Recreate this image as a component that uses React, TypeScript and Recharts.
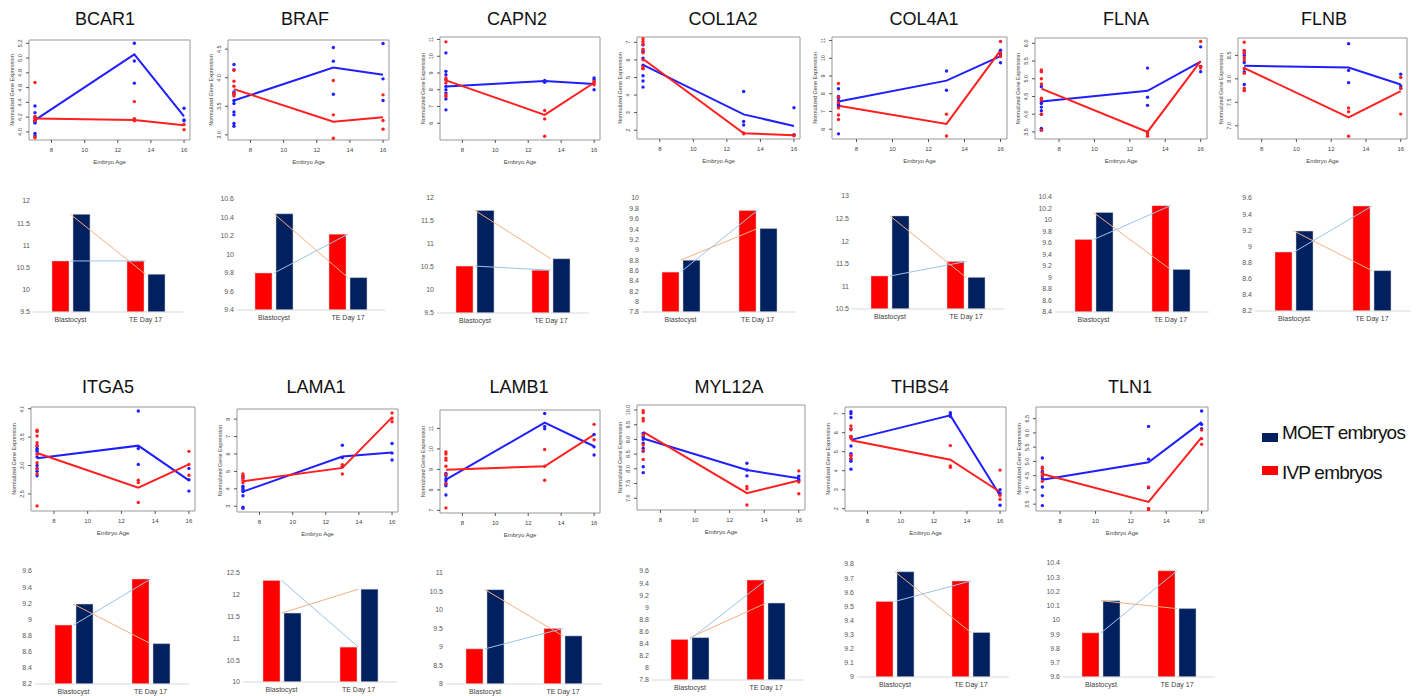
import React from 'react';
import { ComposedChart, Bar, Line, Scatter, XAxis, YAxis, ReferenceArea } from 'recharts';

const genes = ['BCAR1', 'BRAF', 'CAPN2', 'COL1A2', 'COL4A1', 'FLNA', 'FLNB', 'ITGA5', 'LAMA1', 'LAMB1', 'MYL12A', 'THBS4', 'TLN1'];
const ages = [7, 13, 16];
const ageTicks = [8, 10, 12, 14, 16];
const stages = ['Blastocyst', 'TE Day 17'];

// single embryos, grouped by embryo age (7, 13, 16)
const moetPoints = [
  [[4.35, 4.26, 4.2, 4.15, 4.13, 4.12, 3.98, 3.95], [5.2, 4.96, 4.66], [4.32, 4.16, 4.15]],
  [[4.23, 4.14, 3.75, 3.72, 3.6, 3.55, 3.4, 3.35, 3.2, 3.15], [4.53, 4.29, 3.71], [4.6, 3.98, 3.6]],
  [[10.2, 9.1, 8.9, 8.6, 8.2, 8.0, 7.8, 7.45, 6.8], [8.56, 8.5, 8.45], [8.7, 8.6, 8.0]],
  [[6.85, 6.5, 6.45, 6.1, 5.7, 5.5, 5.1, 4.8, 4.45], [4.2, 2.5, 2.3], [3.28, 1.75]],
  [[8.28, 7.85, 7.75, 7.6, 7.5, 7.4, 7.3, 5.74], [9.28, 8.2], [10.45, 10.2, 9.75]],
  [[5.2, 4.78, 4.35, 4.3, 4.2, 4.1, 4.0, 3.6, 3.55], [5.3, 4.48, 4.25], [5.9, 5.35, 5.2]],
  [[8.6, 8.55, 8.5, 8.35, 8.15, 7.88, 7.75], [8.75, 8.18, 7.92], [8.1, 7.85, 7.8]],
  [[3.35, 3.3, 3.28, 3.25, 3.15, 3.0, 2.95, 2.9, 2.82], [3.96, 3.3, 3.02], [2.95, 2.75, 2.55]],
  [[4.7, 4.6, 4.15, 4.05, 3.95, 3.85, 3.6, 2.95, 2.88], [6.5, 5.8, 5.3], [6.6, 6.05, 5.65]],
  [[8.8, 8.7, 8.55, 8.45, 8.3, 8.2, 7.75], [11.73, 11.1, 10.98], [10.7, 10.1, 9.7]],
  [[9.2, 9.1, 9.05, 9.0, 8.87, 8.7, 8.6, 8.07, 7.87], [8.19, 7.96, 7.76], [7.75, 7.65, 7.6]],
  [[7.1, 7.0, 6.8, 6.2, 5.8, 5.3, 4.9, 4.8, 4.6, 4.5, 4.08], [7.05, 6.95, 6.85], [3.0, 2.8, 2.18]],
  [[5.12, 4.65, 4.6, 4.5, 4.4, 4.1, 3.8, 3.45], [6.23, 5.08, 4.08], [6.77, 6.3, 6.15]],
];
const ivpPoints = [
  [[4.67, 4.21, 4.18, 4.16, 4.15, 3.93, 3.92], [4.41, 4.18, 4.16, 4.15], [4.1, 4.03]],
  [[4.13, 3.94, 3.85, 3.73, 3.7, 3.68], [3.95, 3.35, 2.94], [3.7, 3.25, 3.1]],
  [[10.86, 8.7, 8.6, 8.4, 7.7, 7.6], [6.76, 6.26, 5.22], [8.5, 8.4, 8.3]],
  [[7.2, 7.05, 6.9, 6.6, 6.4, 6.0, 5.6, 5.5], [1.85, 1.8], [1.72, 1.68]],
  [[8.58, 7.8, 7.5, 7.2, 6.8, 6.55], [6.85, 5.62], [10.95, 10.3, 10.1]],
  [[5.25, 5.2, 5.0, 4.85, 4.45, 4.4, 4.0, 3.55], [3.5, 3.45, 3.38], [6.05, 5.35, 5.3]],
  [[8.78, 8.6, 8.55, 8.45, 8.4, 8.22, 8.12, 7.8, 7.75], [7.38, 7.3, 6.78], [8.03, 7.8, 7.25]],
  [[3.62, 3.6, 3.52, 3.4, 3.35, 3.2, 3.05, 2.95, 2.85, 2.29], [2.74, 2.7, 2.35], [3.25, 3.02, 2.83]],
  [[4.85, 4.75, 4.6, 4.45, 4.35], [5.38, 5.3, 4.85], [8.35, 8.05, 7.85]],
  [[9.85, 9.75, 9.55, 9.45, 9.15, 8.75, 8.3, 7.12], [9.97, 9.15, 8.47], [11.2, 10.45]],
  [[9.98, 9.91, 9.71, 9.63, 9.15, 8.81, 8.62, 8.32], [7.4, 7.32, 6.77], [7.93, 7.55, 7.15]],
  [[6.35, 6.15, 5.8, 5.7, 4.8, 4.65], [5.32, 4.25, 4.18], [4.03, 2.7, 2.5]],
  [[4.8, 4.75, 4.6, 4.5, 4.3], [4.1, 3.35, 3.3], [6.1, 5.8, 5.6]],
];

// group means at 7, 13, 16
const moetMeans = [
  [4.16, 5.05, 4.21], [3.6, 4.18, 4.05], [8.2, 8.52, 8.35], [5.72, 2.9, 2.24], [7.56, 8.74, 10.12],
  [4.36, 4.66, 5.48], [8.28, 8.24, 7.88], [3.13, 3.35, 2.74], [3.84, 5.85, 6.08], [8.5, 11.28, 10.13],
  [9.03, 7.96, 7.68], [5.62, 6.91, 2.7], [4.36, 4.97, 6.38],
];
const ivpMeans = [
  [4.18, 4.16, 4.09], [3.8, 3.23, 3.31], [8.56, 6.5, 8.42], [6.05, 1.83, 1.72], [7.32, 6.3, 10.45],
  [4.72, 3.5, 5.5], [8.23, 7.18, 7.74], [3.22, 2.61, 3.02], [4.43, 5.2, 8.1], [8.98, 9.15, 10.7],
  [9.26, 7.17, 7.6], [5.6, 4.58, 2.88], [4.56, 3.58, 5.84],
];

const lineYTicks = [
  [4, 4.2, 4.4, 4.6, 4.8, 5, 5.2], [3, 3.5, 4, 4.5], [6, 7, 8, 9, 10, 11], [2, 3, 4, 5, 6, 7],
  [6, 7, 8, 9, 10, 11], [3.5, 4, 4.5, 5, 5.5, 6], [7, 7.5, 8, 8.5], [2.5, 3, 3.5, 4],
  [3, 4, 5, 6, 7, 8], [7, 8, 9, 10, 11], [7, 7.5, 8, 8.5, 9, 9.5, 10], [2, 3, 4, 5, 6, 7],
  [3.5, 4, 4.5, 5, 5.5, 6, 6.5],
];
const lineYDomain = [
  [3.89, 5.245], [2.91, 4.66], [5.0, 11.15], [1.5, 7.3], [5.45, 11.2], [3.3, 6.15], [6.72, 8.87],
  [2.2, 4.03], [2.67, 8.58], [6.87, 11.9], [6.6, 10.17], [1.88, 7.35], [3.26, 6.91],
];
const xDomain = [6.64, 16.36];

// Blastocyst, TE Day 17
const ivpBars = [
  [10.65, 10.65], [9.8, 10.22], [10.52, 10.43], [8.57, 9.76], [11.23, 11.55], [9.66, 10.25], [8.93, 9.5],
  [8.93, 9.5], [12.33, 10.8], [8.95, 9.5], [8.47, 9.45], [9.535, 9.68], [9.91, 10.345],
];
const moetBars = [
  [11.7, 10.35], [10.44, 9.75], [11.73, 10.68], [8.8, 9.41], [12.56, 11.2], [10.13, 9.14], [9.19, 8.7],
  [9.19, 8.7], [11.58, 12.13], [10.55, 9.3], [8.5, 9.07], [9.745, 9.315], [10.135, 10.08],
];
const barYTicks = [
  [9.5, 10, 10.5, 11, 11.5, 12],
  [9.4, 9.6, 9.8, 10, 10.2, 10.4, 10.6],
  [9.5, 10, 10.5, 11, 11.5, 12],
  [7.8, 8, 8.2, 8.4, 8.6, 8.8, 9, 9.2, 9.4, 9.6, 9.8, 10],
  [10.5, 11, 11.5, 12, 12.5, 13],
  [8.4, 8.6, 8.8, 9, 9.2, 9.4, 9.6, 9.8, 10, 10.2, 10.4],
  [8.2, 8.4, 8.6, 8.8, 9, 9.2, 9.4, 9.6],
  [8.2, 8.4, 8.6, 8.8, 9, 9.2, 9.4, 9.6],
  [10, 10.5, 11, 11.5, 12, 12.5],
  [8, 8.5, 9, 9.5, 10, 10.5, 11],
  [7.8, 8, 8.2, 8.4, 8.6, 8.8, 9, 9.2, 9.4, 9.6],
  [9, 9.1, 9.2, 9.3, 9.4, 9.5, 9.6, 9.7, 9.8],
  [9.6, 9.7, 9.8, 9.9, 10, 10.1, 10.2, 10.3, 10.4],
];

// layout: plot boxes [left, top, right, bottom], title centres, bar positions [blast centre, TE centre, top tick y, base y]
const lineBox = [
  [29, 40, 190, 140], [228, 40, 389, 140], [440, 37, 600, 140], [637, 37, 800, 139], [832, 37, 1007, 139],
  [1035, 38, 1207, 139], [1238, 38, 1407, 139],
  [31, 407, 195, 511], [237, 409, 398, 512], [440, 410, 600, 513], [637, 405, 805, 510], [845, 407, 1006, 511],
  [1036, 407, 1208, 511],
];
const titleX = [105, 305, 517, 723, 924, 1126, 1324, 108, 316, 519, 729, 920, 1130];
const barPos = [
  [70.5, 145.5, 201, 312], [274, 348, 199, 310], [475, 551, 198, 313], [680, 757, 198, 312],
  [890, 966, 196, 309], [1093, 1170, 197, 312], [1294, 1372, 198, 311],
  [73, 150, 571, 684], [281.5, 358.5, 573, 682], [485, 563, 573, 684], [690, 766, 571, 680],
  [895, 971, 564, 677], [1101, 1177, 563, 677],
];

const BLUE = '#1f1fff';
const RED = '#ff1f1f';
const NAVY = '#002060';

const toPoints = (groups: number[][]) => groups.flatMap((g, k) => g.map((y) => ({ x: ages[k], y })));
const toMeans = (m: number[]) => m.map((y, k) => ({ x: ages[k], y }));
const tickFormat = (ticks: number[]) => {
  const dec = ticks.some((t) => !Number.isInteger(t)) ? 1 : 0;
  return (v: number) => v.toFixed(dec);
};

const RotatedTick = (props: any) => {
  const { x, y, payload, format } = props;
  return (
    <text x={x} y={y} transform={`rotate(-90 ${x} ${y})`} textAnchor="middle" fontSize={5.5} fill="#444">
      {format(payload.value)}
    </text>
  );
};

const dot = (color: string) => (p: any) => <circle cx={p.cx} cy={p.cy} r={1.7} fill={color} />;

function GeneLine({ i }: { i: number }) {
  const [l, t, r, b] = lineBox[i];
  const yW = 26;
  const xH = 28;
  const dom = lineYDomain[i];
  return (
    <div style={{ position: 'absolute', left: l - yW, top: t - 1 }}>
      <ComposedChart width={r - l + yW + 1} height={b - t + 1 + xH} margin={{ top: 1, right: 1, left: 0, bottom: 0 }}>
        <XAxis
          type="number"
          dataKey="x"
          domain={xDomain}
          ticks={ageTicks}
          interval={0}
          allowDataOverflow
          height={xH}
          tickSize={3}
          tickMargin={5}
          axisLine={false}
          tickLine={{ stroke: '#555' }}
          tick={{ fontSize: 6, fill: '#444' }}
          label={{ value: 'Embryo Age', position: 'insideBottom', offset: 4, fontSize: 6, fill: '#444' }}
        />
        <YAxis
          type="number"
          dataKey="y"
          domain={dom}
          ticks={lineYTicks[i]}
          interval={0}
          allowDataOverflow
          width={yW}
          tickSize={3}
          tickMargin={4}
          axisLine={false}
          tickLine={{ stroke: '#555' }}
          tick={<RotatedTick format={tickFormat(lineYTicks[i])} />}
          label={{ value: 'Normalized Gene Expression', angle: -90, position: 'insideLeft', offset: 9, fontSize: 5.5, fill: '#444', style: { textAnchor: 'middle' } }}
        />
        <ReferenceArea x1={xDomain[0]} x2={xDomain[1]} y1={dom[0]} y2={dom[1]} fill="none" stroke="#999" ifOverflow="visible" />
        <Scatter data={toPoints(moetPoints[i])} shape={dot(BLUE)} isAnimationActive={false} />
        <Scatter data={toPoints(ivpPoints[i])} shape={dot(RED)} isAnimationActive={false} />
        <Line data={toMeans(moetMeans[i])} dataKey="y" stroke={BLUE} strokeWidth={2} dot={false} isAnimationActive={false} />
        <Line data={toMeans(ivpMeans[i])} dataKey="y" stroke={RED} strokeWidth={2} dot={false} isAnimationActive={false} />
      </ComposedChart>
    </div>
  );
}

function GeneBar({ i }: { i: number }) {
  const [c1, c2, top, base] = barPos[i];
  const band = c2 - c1;
  const yW = 30;
  const xH = 18;
  const ticks = barYTicks[i];
  const data = stages.map((s, k) => ({ stage: s, ivp: ivpBars[i][k], moet: moetBars[i][k] }));
  return (
    <div style={{ position: 'absolute', left: c1 - band / 2 - yW, top: top - 4 }}>
      <ComposedChart width={yW + band * 2 + 2} height={base - top + 4 + xH} data={data} margin={{ top: 4, right: 2, left: 0, bottom: 0 }} barGap={4}>
        <XAxis dataKey="stage" height={xH} interval={0} tickLine={false} tickSize={0} tickMargin={5} axisLine={{ stroke: '#d9d9d9' }} tick={{ fontSize: 7, fill: '#404040' }} />
        <YAxis domain={[ticks[0], ticks[ticks.length - 1]]} ticks={ticks} interval={0} allowDataOverflow width={yW} axisLine={false} tickLine={false} tickSize={0} tickMargin={3} tick={{ fontSize: 7, fill: '#595959' }} />
        <Bar dataKey="ivp" barSize={17} fill="#ff0000" stroke="#cfcfcf" strokeWidth={0.5} isAnimationActive={false} />
        <Bar dataKey="moet" barSize={17} fill={NAVY} stroke="#cfcfcf" strokeWidth={0.5} isAnimationActive={false} />
        <Line dataKey="moet" stroke="#f4b183" strokeWidth={1} dot={false} isAnimationActive={false} />
        <Line dataKey="ivp" stroke="#9dc3e6" strokeWidth={1} dot={false} isAnimationActive={false} />
      </ComposedChart>
    </div>
  );
}

export default function App() {
  return (
    <div style={{ position: 'absolute', left: 0, top: 0, width: 1424, height: 696, background: '#fff', fontFamily: '"Liberation Sans", Arial, sans-serif', overflow: 'hidden' }}>
      {genes.map((g, i) => (
        <div
          key={g + '-title'}
          style={{ position: 'absolute', left: titleX[i] - 60, top: i < 7 ? 8 : 376, width: 120, textAlign: 'center', fontSize: 18, lineHeight: '22px', color: '#111' }}
        >
          {g}
        </div>
      ))}
      {genes.map((g, i) => (
        <GeneLine key={g + '-line'} i={i} />
      ))}
      {genes.map((g, i) => (
        <GeneBar key={g + '-bar'} i={i} />
      ))}
      <div style={{ position: 'absolute', left: 1262, top: 433, width: 16, height: 9, background: NAVY }} />
      <div style={{ position: 'absolute', left: 1282, top: 422, fontSize: 19, lineHeight: '22px', letterSpacing: -0.8, color: '#111' }}>MOET embryos</div>
      <div style={{ position: 'absolute', left: 1262, top: 466, width: 16, height: 9, background: '#ff0000' }} />
      <div style={{ position: 'absolute', left: 1282, top: 462, fontSize: 19, lineHeight: '22px', letterSpacing: -0.8, color: '#111' }}>IVP embryos</div>
    </div>
  );
}
